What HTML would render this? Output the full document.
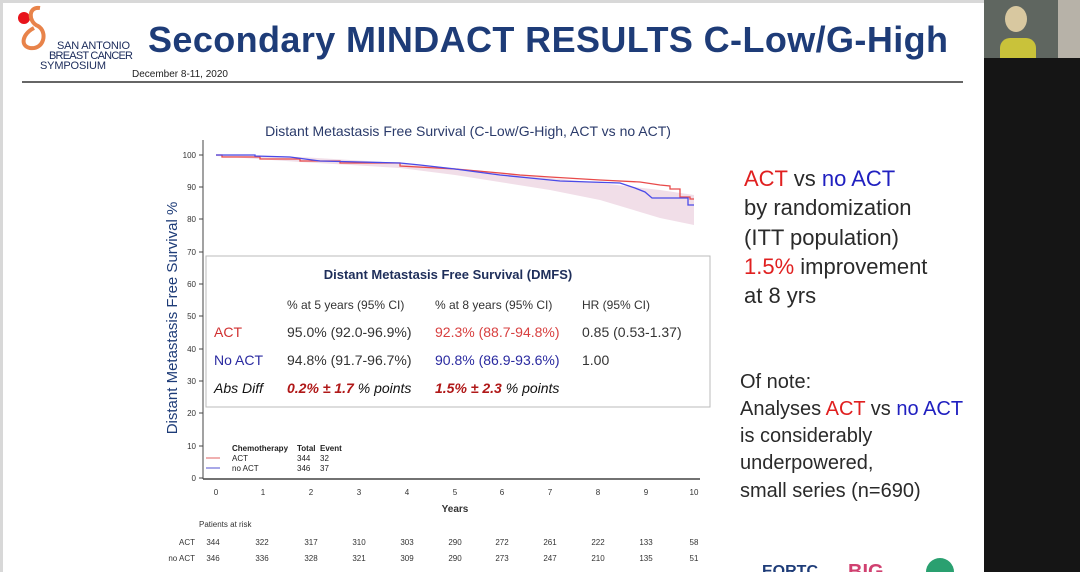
<!DOCTYPE html>
<html><head><meta charset="utf-8"><style>
body{margin:0;width:1080px;height:572px;overflow:hidden;background:#151515;font-family:"Liberation Sans",sans-serif}
#s{position:absolute;left:0;top:0;width:984px;height:572px;background:#fff;border-top:3px solid #d8d8d8;border-left:3px solid #d8d8d8;box-sizing:border-box}
</style></head><body>
<div id="s"></div>
<div style="position:absolute;left:984px;top:0;width:96px;height:58px;background:#5f6660"></div>
<div style="position:absolute;left:1058px;top:0;width:22px;height:58px;background:#b7b2a8"></div>
<div style="position:absolute;left:1005px;top:6px;width:22px;height:26px;border-radius:50%;background:#d8c8a0"></div>
<div style="position:absolute;left:1000px;top:38px;width:36px;height:20px;border-radius:10px 10px 0 0;background:#c9c23a"></div>
<svg width="1080" height="572" style="position:absolute;left:0;top:0" font-family="Liberation Sans, sans-serif">
<circle cx="24" cy="18" r="6" fill="#e8141b"/>
<path d="M40 8 C28 6 28 22 38 26 C48 32 44 50 30 48 C20 46 22 34 34 28" fill="none" stroke="#e8834a" stroke-width="4"/>
<text x="57" y="49" font-size="11" fill="#1a2a5a" textLength="73">SAN ANTONIO</text>
<text x="49" y="59" font-size="11" fill="#1a2a5a" textLength="84">BREAST CANCER</text>
<text x="40" y="69" font-size="11" fill="#1a2a5a" textLength="66">SYMPOSIUM</text>
<text x="132" y="77" font-size="10" fill="#222">December 8-11, 2020</text>
<text x="148" y="52" font-size="36" font-weight="bold" fill="#1e3c78" textLength="800">Secondary MINDACT RESULTS C-Low/G-High</text>
<line x1="22" y1="82" x2="963" y2="82" stroke="#333" stroke-width="1.5"/>
<text x="468" y="136" font-size="14" fill="#2a3a6a" text-anchor="middle">Distant Metastasis Free Survival (C-Low/G-High, ACT vs no ACT)</text>
<text transform="translate(177,318) rotate(-90)" font-size="15" fill="#1e3c78" text-anchor="middle">Distant Metastasis Free Survival %</text>
<line x1="203" y1="140" x2="203" y2="479" stroke="#444"/>
<line x1="203" y1="479" x2="700" y2="479" stroke="#444" stroke-width="1.5"/>
<g font-size="8" fill="#333" text-anchor="end">
<text x="196" y="158">100</text><text x="196" y="190">90</text><text x="196" y="222">80</text><text x="196" y="255">70</text><text x="196" y="287">60</text><text x="196" y="319">50</text><text x="196" y="352">40</text><text x="196" y="384">30</text><text x="196" y="416">20</text><text x="196" y="449">10</text><text x="196" y="481">0</text>
</g>
<g stroke="#444"><line x1="199" y1="155" x2="203" y2="155"/><line x1="199" y1="187" x2="203" y2="187"/><line x1="199" y1="219" x2="203" y2="219"/><line x1="199" y1="252" x2="203" y2="252"/><line x1="199" y1="284" x2="203" y2="284"/><line x1="199" y1="316" x2="203" y2="316"/><line x1="199" y1="349" x2="203" y2="349"/><line x1="199" y1="381" x2="203" y2="381"/><line x1="199" y1="413" x2="203" y2="413"/><line x1="199" y1="446" x2="203" y2="446"/><line x1="199" y1="478" x2="203" y2="478"/></g>
<g font-size="8" fill="#333" text-anchor="middle">
<text x="216" y="495">0</text><text x="263" y="495">1</text><text x="311" y="495">2</text><text x="359" y="495">3</text><text x="407" y="495">4</text><text x="455" y="495">5</text><text x="502" y="495">6</text><text x="550" y="495">7</text><text x="598" y="495">8</text><text x="646" y="495">9</text><text x="694" y="495">10</text>
</g>
<text x="455" y="512" font-size="10" font-weight="bold" fill="#333" text-anchor="middle">Years</text>
<path d="M216 155 L300 157 L400 163 L455 168 L550 178 L600 183 L660 190 L694 195 L694 225 L660 218 L600 200 L550 190 L455 175 L400 168 L300 162 L216 156Z" fill="#e8c8d8" opacity="0.6"/>
<path d="M216 155 L222 155 L222 157 L260 157 L260 159 L300 159 L300 161 L340 161 L340 163 L400 163 L400 166 L455 169 L500 173 L520 175 L550 177 L600 180 L640 182 L660 185 L670 186 L670 189 L680 189 L680 197 L690 197 L690 199 L694 199" fill="none" stroke="#e84a4a" stroke-width="1.3"/>
<path d="M216 155 L255 155 L255 156 L290 157 L320 161 L360 162 L400 163 L420 165 L455 169 L500 175 L530 178 L560 181 L620 183 L635 188 L645 192 L652 198 L688 198 L688 205 L694 205" fill="none" stroke="#4a4ae8" stroke-width="1.3"/>
<rect x="206" y="256" width="504" height="151" fill="#fff" stroke="#bbb"/>
<text x="448" y="279" font-size="13" font-weight="bold" fill="#1e2e5a" text-anchor="middle">Distant Metastasis Free Survival (DMFS)</text>
<g font-size="12" fill="#333"><text x="287" y="309">% at 5 years (95% CI)</text><text x="435" y="309">% at 8 years (95% CI)</text><text x="582" y="309">HR (95% CI)</text></g>
<g font-size="14">
<text x="214" y="337" fill="#d03030">ACT</text><text x="287" y="337" fill="#333">95.0% (92.0-96.9%)</text><text x="435" y="337" fill="#d84040">92.3% (88.7-94.8%)</text><text x="582" y="337" fill="#333">0.85 (0.53-1.37)</text>
<text x="214" y="365" fill="#2a2aa0">No ACT</text><text x="287" y="365" fill="#333">94.8% (91.7-96.7%)</text><text x="435" y="365" fill="#2a2aa0">90.8% (86.9-93.6%)</text><text x="582" y="365" fill="#333">1.00</text>
<text x="214" y="393" fill="#111" font-style="italic">Abs Diff</text>
<text x="287" y="393" font-style="italic"><tspan fill="#b01818" font-weight="bold">0.2% ± 1.7</tspan><tspan fill="#111"> % points</tspan></text>
<text x="435" y="393" font-style="italic"><tspan fill="#b01818" font-weight="bold">1.5% ± 2.3</tspan><tspan fill="#111"> % points</tspan></text>
</g>
<g font-size="8" fill="#222"><text x="232" y="451" font-weight="bold">Chemotherapy</text><text x="297" y="451" font-weight="bold">Total</text><text x="320" y="451" font-weight="bold">Event</text>
<text x="232" y="461">ACT</text><text x="297" y="461">344</text><text x="320" y="461">32</text>
<text x="232" y="471">no ACT</text><text x="297" y="471">346</text><text x="320" y="471">37</text></g>
<line x1="206" y1="458" x2="220" y2="458" stroke="#e06060"/><line x1="206" y1="468" x2="220" y2="468" stroke="#5050d0"/>
<text x="199" y="527" font-size="8" fill="#333">Patients at risk</text>
<g font-size="8" fill="#333" text-anchor="middle">
<text x="195" y="545" text-anchor="end">ACT</text><text x="195" y="561" text-anchor="end">no ACT</text>
<text x="213" y="545">344</text><text x="262" y="545">322</text><text x="311" y="545">317</text><text x="359" y="545">310</text><text x="407" y="545">303</text><text x="455" y="545">290</text><text x="502" y="545">272</text><text x="550" y="545">261</text><text x="598" y="545">222</text><text x="646" y="545">133</text><text x="694" y="545">58</text>
<text x="213" y="561">346</text><text x="262" y="561">336</text><text x="311" y="561">328</text><text x="359" y="561">321</text><text x="407" y="561">309</text><text x="455" y="561">290</text><text x="502" y="561">273</text><text x="550" y="561">247</text><text x="598" y="561">210</text><text x="646" y="561">135</text><text x="694" y="561">51</text>
</g>
<g font-size="22" fill="#2a2a2a">
<text x="744" y="186"><tspan fill="#e02020">ACT</tspan> vs <tspan fill="#2020c0">no ACT</tspan></text>
<text x="744" y="215">by randomization</text>
<text x="744" y="245">(ITT population)</text>
<text x="744" y="274"><tspan fill="#e02020">1.5%</tspan> improvement</text>
<text x="744" y="303">at 8 yrs</text>
<text x="740" y="388" font-size="20">Of note:</text>
<text x="740" y="415" font-size="20">Analyses <tspan fill="#e02020">ACT</tspan> vs <tspan fill="#2020c0">no ACT</tspan></text>
<text x="740" y="442" font-size="20">is considerably</text>
<text x="740" y="469" font-size="20">underpowered,</text>
<text x="740" y="497" font-size="20">small series (n=690)</text>
</g>
<text x="762" y="576" font-size="16" font-weight="bold" fill="#1e3c78">EORTC</text>
<text x="848" y="578" font-size="20" font-weight="bold" fill="#d04070">BIG</text>
<circle cx="940" cy="572" r="14" fill="#2aa070"/>
</svg>
</body></html>
